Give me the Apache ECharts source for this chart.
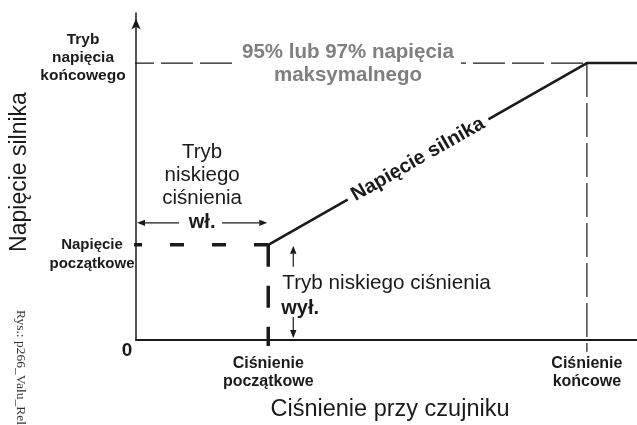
<!DOCTYPE html>
<html>
<head>
<meta charset="utf-8">
<script src="https://cdn.jsdelivr.net/npm/echarts@6/dist/echarts.min.js"></script>
<style>
  html, body { margin: 0; padding: 0; background: #fff; }
  #chart { width: 637px; height: 425px; }
</style>
</head>
<body>
<div id="chart"></div>
<script>
// Pressure at the sensor (horizontal) and motor voltage (vertical), arbitrary units 0..100
const pressureTicks = [26.4, 90];
const pressureTickLabels = ['Ciśnienie\npoczątkowe', 'Ciśnienie\nkońcowe'];
const voltageTicks = [29.1, 84.7];
const voltageTickLabels = ['Napięcie\npoczątkowe', 'Tryb\nnapięcia\nkońcowego'];

// Motor voltage curve: ramp from start pressure to end pressure, then flat
const motorPressure = [26.4, 90, 100];
const motorVoltage = [29.1, 84.7, 84.7];

const FONT = "'Liberation Sans', Arial, sans-serif";
const INK = '#1a1a1a';

const chart = echarts.init(document.getElementById('chart'), null, { renderer: 'canvas' });

const pStart = pressureTicks[0], pEnd = pressureTicks[1];
const vStart = voltageTicks[0], vEnd = voltageTicks[1];

chart.setOption({
  animation: false,
  grid: { left: 136, right: 0, top: 13, bottom: 85 },
  xAxis: {
    type: 'value', min: 0, max: 100,
    axisLine: { show: true, onZero: false, lineStyle: { color: INK, width: 2 } },
    axisTick: { show: false },
    splitLine: { show: false },
    axisLabel: {
      customValues: pressureTicks,
      formatter: v => pressureTickLabels[pressureTicks.indexOf(v)] || '',
      fontFamily: FONT, fontWeight: 'bold', fontSize: 16, lineHeight: 18,
      color: INK, margin: 15
    }
  },
  yAxis: {
    type: 'value', min: 0, max: 100,
    axisLine: {
      show: true, onZero: false,
      lineStyle: { color: INK, width: 1.5 },
      symbol: ['none', 'arrow'], symbolSize: [7, 11], symbolOffset: [0, -5.5]
    },
    axisTick: { show: false },
    splitLine: { show: false },
    axisLabel: { show: false }
  },
  series: [
    {
      name: 'Napięcie silnika', type: 'line', symbol: 'none', clip: false, z: 5,
      data: motorPressure.map((p, i) => [p, motorVoltage[i]]),
      lineStyle: { color: INK, width: 2.6 }
    },
    {
      type: 'line', symbol: 'none', clip: false, z: 4,
      data: [[-1.6, vStart], [pStart, vStart]],
      lineStyle: { color: INK, width: 3.5, type: [14, 28] }
    },
    {
      type: 'line', symbol: 'none', clip: false, z: 4,
      data: [[pStart, vStart], [pStart, -1.8]],
      lineStyle: { color: INK, width: 3.5, type: [22, 19] }
    },
    {
      type: 'line', symbol: 'none', clip: false, z: 3,
      data: [[-2.8, vEnd], [pEnd, vEnd]],
      lineStyle: { color: INK, width: 1.2, type: [32, 7] }
    },
    {
      type: 'line', symbol: 'none', clip: false, z: 3,
      data: [[pEnd, vEnd], [pEnd, -3.6]],
      lineStyle: { color: INK, width: 1.2, type: [34, 6] }
    }
  ]
});

const px = (x, y) => chart.convertToPixel({ gridIndex: 0 }, [x, y]);
const origin = px(0, 0);
const startPt = px(pStart, vStart);
const endPt = px(pEnd, vEnd);

function text(str, x, y, o) {
  return {
    type: 'text', x: x, y: y, z: 100, rotation: o.rotation || 0,
    style: Object.assign({
      text: str, fontFamily: FONT, fill: INK,
      align: 'center', verticalAlign: 'middle'
    }, o.style)
  };
}

function arrow(x1, y1, x2, y2) {
  const len = Math.hypot(x2 - x1, y2 - y1);
  const ux = (x2 - x1) / len, uy = (y2 - y1) / len;
  const hl = 8, hw = 3.2;
  const bx = x2 - ux * hl, by = y2 - uy * hl;
  return [
    { type: 'line', z: 100, shape: { x1: x1, y1: y1, x2: bx, y2: by }, style: { stroke: INK, lineWidth: 1.2 } },
    { type: 'polygon', z: 100, shape: { points: [[x2, y2], [bx - uy * hw, by + ux * hw], [bx + uy * hw, by - ux * hw]] }, style: { fill: INK } }
  ];
}

const slope = Math.atan2(startPt[1] - endPt[1], endPt[0] - startPt[0]);
const labelT = 0.47;
const labelPt = [startPt[0] + (endPt[0] - startPt[0]) * labelT, startPt[1] + (endPt[1] - startPt[1]) * labelT];
const modeX = (origin[0] + startPt[0]) / 2;

const graphic = [
  // axis titles
  text('Napięcie silnika', 20, 172, { rotation: Math.PI / 2, style: { fontSize: 23 } }),
  text('Ciśnienie przy czujniku', 390, 410, { style: { fontSize: 23.5 } }),
  text('Rys.: p266_Valu_Rel', 21, 310, {
    rotation: -Math.PI / 2,
    style: { fontFamily: "'Liberation Serif', 'Times New Roman', serif", fontSize: 13.5, fill: '#333', align: 'left' }
  }),
  // vertical axis marks
  text('0', origin[0] - 9, origin[1] + 11, { style: { fontSize: 19, fontWeight: 'bold' } }),
  text(voltageTickLabels[0], 92, startPt[1] + 10, { style: { fontSize: 15, fontWeight: 'bold', lineHeight: 19 } }),
  text(voltageTickLabels[1], 83, endPt[1] - 5, { style: { fontSize: 15.5, fontWeight: 'bold', lineHeight: 18 } }),
  // 95% / 97% note on the upper dashed line
  text('95% lub 97% napięcia\nmaksymalnego', 348, endPt[1] + 1, {
    style: { fontSize: 20.5, fontWeight: 'bold', fill: '#7f7f7f', lineHeight: 23, backgroundColor: '#fff', padding: [0, 7] }
  }),
  // label along the motor voltage ramp
  text('Napięcie silnika', labelPt[0], labelPt[1], {
    rotation: slope,
    style: { fontSize: 20, fontWeight: 'bold', backgroundColor: '#fff', padding: [0, 6] }
  }),
  // low-pressure mode on
  text('Tryb\nniskiego\nciśnienia', modeX, 175, { style: { fontSize: 20.5, lineHeight: 23 } }),
  text('wł.', modeX, startPt[1] - 22, { style: { fontSize: 20, fontWeight: 'bold' } }),
  ...arrow(modeX - 23, startPt[1] - 22, origin[0] + 1, startPt[1] - 22),
  ...arrow(modeX + 20, startPt[1] - 22, startPt[0] - 1, startPt[1] - 22),
  // low-pressure mode off
  text('Tryb niskiego ciśnienia', startPt[0] + 14, 283, { style: { fontSize: 20.7, align: 'left' } }),
  text('wył.', startPt[0] + 13, 308, { style: { fontSize: 20, fontWeight: 'bold', align: 'left' } }),
  ...arrow(startPt[0] + 25, startPt[1] + 22, startPt[0] + 25, startPt[1] + 1),
  ...arrow(startPt[0] + 25, 317, startPt[0] + 25, origin[1] - 2)
];

chart.setOption({ graphic: graphic });
</script>
</body>
</html>
